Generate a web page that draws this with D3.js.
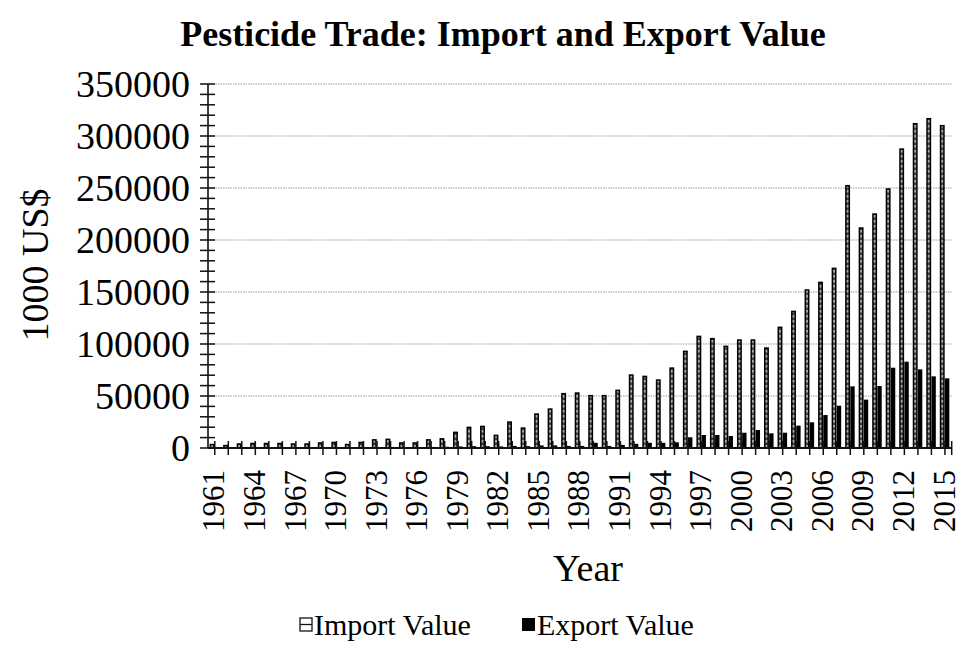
<!DOCTYPE html>
<html><head><meta charset="utf-8">
<script src="https://cdn.jsdelivr.net/npm/d3@7"></script>
<style>body{margin:0;background:#fff;} svg{display:block;font-family:"Liberation Serif","Times New Roman",serif;}</style>
</head><body>
<svg id="c" width="958" height="647"></svg>
<script>
const years = d3.range(1961, 2016).map(String);
const importValue = [4000,3000,4500,5000,5000,5000,4500,4500,5500,6000,4000,6000,8500,9000,5500,5500,8500,9500,15700,20500,
  21400,12800,25600,19800,33300,38100,52900,53500,51000,51000,56100,70800,69500,66000,77500,93600,108000,105800,98400,104500,
  104500,96800,116700,132000,152600,159900,173400,252900,212200,225600,249700,288100,312500,317300,310600];
const exportValue = [500,400,500,600,600,600,500,500,700,800,600,800,900,1000,800,800,1000,1200,1500,1800,
  1800,1500,2000,1800,2500,2500,2000,2000,5000,2000,3000,4000,5000,5000,5500,10300,12500,12500,11500,14700,
  17300,14100,14700,21500,24700,31700,40700,59300,46500,59600,77200,83000,75600,68900,67000];
const yTicks = [0,50000,100000,150000,200000,250000,300000,350000];
const xLabelYears = years.filter((d,i)=> i % 3 === 0);

const svg = d3.select("#c");
const L = 208, R = 951.7, T = 84, B = 448;
const x = d3.scaleBand().domain(years).range([L, R]).paddingInner(0).paddingOuter(0);
const y = d3.scaleLinear().domain([0, 350000]).range([B, T]);
const bw = 4.8;

const defs = svg.append("defs");
const pat = defs.append("pattern").attr("id","hatch").attr("patternUnits","userSpaceOnUse").attr("width",20).attr("height",5);
pat.append("rect").attr("width",20).attr("height",5).attr("fill","#444");
pat.append("rect").attr("width",20).attr("height",2.5).attr("fill","#aaa");

// gridlines
svg.append("g").selectAll("line").data(yTicks.slice(1)).join("line")
  .attr("x1", L).attr("x2", R).attr("y1", d=>y(d)).attr("y2", d=>y(d))
  .attr("stroke","#9a9a9a").attr("stroke-width",1).attr("stroke-dasharray","1.5,1");

// bars
const c = d => x(d) + x.bandwidth()/2;
svg.append("g").selectAll("rect").data(years).join("rect")
  .attr("x", (d)=> c(d) - bw + 0.4).attr("width", bw - 1.4)
  .attr("y", (d,i)=> y(importValue[i]) + 0.7).attr("height", (d,i)=> Math.max(0, B - y(importValue[i]) - 0.7))
  .attr("fill","url(#hatch)").attr("stroke","#000").attr("stroke-width",1.5);
svg.append("g").selectAll("rect").data(years).join("rect")
  .attr("x", d=> c(d)).attr("width", bw - 0.4)
  .attr("y", (d,i)=> y(exportValue[i])).attr("height", (d,i)=> B - y(exportValue[i]))
  .attr("fill","#000");

// y axis
const minor = d3.range(0, 350001, 10000);
svg.append("g").selectAll("line").data(minor).join("line")
  .attr("x1", L-8).attr("x2", L+7).attr("y1", d=>y(d)).attr("y2", d=>y(d))
  .attr("stroke","#111").attr("stroke-width",1.5);
svg.append("line").attr("x1",L).attr("x2",L).attr("y1",T).attr("y2",B).attr("stroke","#111").attr("stroke-width",1.6);
svg.append("g").selectAll("text").data(yTicks).join("text")
  .attr("x", 190).attr("y", d=>y(d)).attr("dy","0.35em").attr("text-anchor","end")
  .attr("font-size", 38).text(d=>d);

// x axis
svg.append("g").selectAll("line").data(years).join("line")
  .attr("x1", d=>c(d)).attr("x2", d=>c(d)).attr("y1", B-7).attr("y2", B+7)
  .attr("stroke","#111").attr("stroke-width",1.5);
svg.append("line").attr("x1",R).attr("x2",R).attr("y1",B-7).attr("y2",B+7).attr("stroke","#111").attr("stroke-width",1.5);
svg.append("line").attr("x1",L).attr("x2",R).attr("y1",B).attr("y2",B).attr("stroke","#111").attr("stroke-width",1.8);
svg.append("g").selectAll("text").data(xLabelYears).join("text")
  .attr("transform", d=>`translate(${c(d)},470) rotate(-90)`)
  .attr("dy","0.31em").attr("text-anchor","end").attr("font-size",31).text(d=>d);

// titles
svg.append("text").attr("x",503).attr("y",46).attr("text-anchor","middle").attr("font-weight","bold").attr("font-size",36)
  .text("Pesticide Trade: Import and Export Value");
svg.append("text").attr("transform","translate(48,265) rotate(-90)").attr("text-anchor","middle").attr("font-size",38).text("1000 US$");
svg.append("text").attr("x",588).attr("y",581).attr("text-anchor","middle").attr("font-size",38).text("Year");

// legend
const lg = svg.append("g");
lg.append("rect").attr("x",300).attr("y",618).attr("width",12).attr("height",13).attr("fill","#fff").attr("stroke","#111").attr("stroke-width",1.3);
lg.append("line").attr("x1",300).attr("x2",312).attr("y1",624.5).attr("y2",624.5).attr("stroke","#111").attr("stroke-width",1.3);
lg.append("text").attr("x",314).attr("y",635).attr("font-size",30).text("Import Value");
lg.append("rect").attr("x",522).attr("y",618).attr("width",13).attr("height",13).attr("fill","#000");
lg.append("text").attr("x",537).attr("y",635).attr("font-size",30).text("Export Value");
</script>
</body></html>
